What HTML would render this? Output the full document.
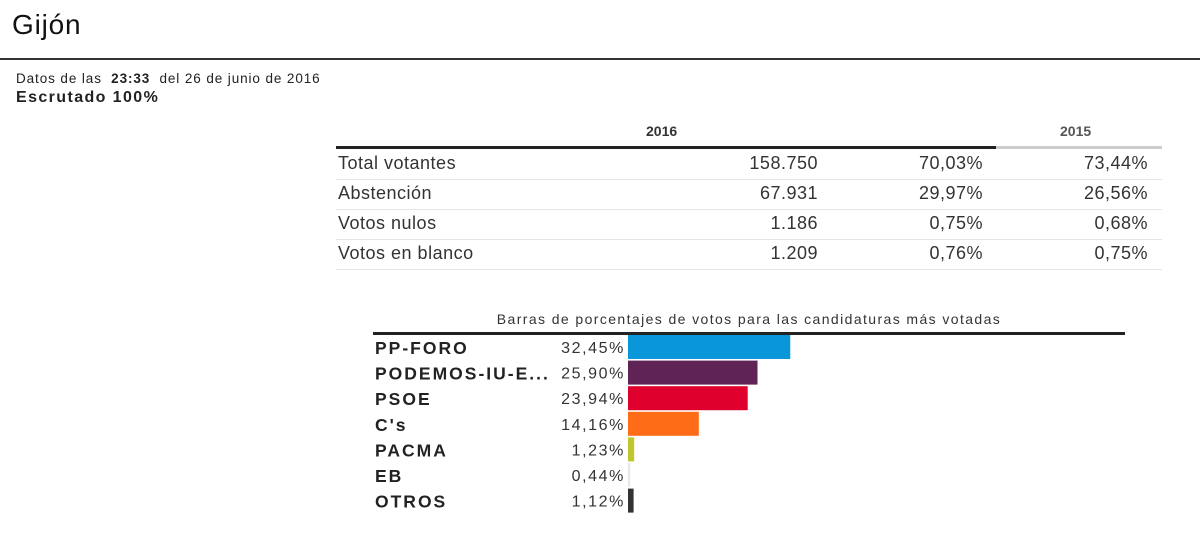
<!DOCTYPE html>
<html><head><meta charset="utf-8"><style>
body{margin:0;width:1200px;height:537px;background:#fff;font-family:"Liberation Sans",sans-serif;color:#222;position:relative;overflow:hidden}
.a{position:absolute;white-space:nowrap}
.row{position:absolute;left:336px;width:826px;height:30px;border-bottom:1px solid #e6e6e6;font-size:18px;color:#333;letter-spacing:0.5px}
.row span{position:absolute;top:4px}
</style></head><body>
<div class="a" style="left:12px;top:9px;font-size:28px;color:#111;letter-spacing:0.8px">Gijón</div>
<div class="a" style="left:0;top:58px;width:1200px;height:2px;background:#333"></div>
<div class="a" style="left:16px;top:71px;font-size:13.5px;letter-spacing:0.9px">Datos de las &nbsp;<b>23:33</b>&nbsp; del 26 de junio de 2016</div>
<div class="a" style="left:16px;top:89px;font-size:16px;font-weight:bold;letter-spacing:1.4px">Escrutado 100%</div>

<div class="a" style="left:646px;top:123px;font-size:14px;font-weight:bold;color:#333">2016</div>
<div class="a" style="left:1060px;top:123px;font-size:14px;font-weight:bold;color:#555">2015</div>
<div class="a" style="left:336px;top:146px;width:660px;height:3px;background:#222"></div>
<div class="a" style="left:996px;top:146px;width:166px;height:3px;background:#ccc"></div>

<div class="row" style="top:149px"><span style="left:2px">Total votantes</span><span style="right:344px">158.750</span><span style="right:179px">70,03%</span><span style="right:14px">73,44%</span></div>
<div class="row" style="top:179px"><span style="left:2px">Abstención</span><span style="right:344px">67.931</span><span style="right:179px">29,97%</span><span style="right:14px">26,56%</span></div>
<div class="row" style="top:209px"><span style="left:2px">Votos nulos</span><span style="right:344px">1.186</span><span style="right:179px">0,75%</span><span style="right:14px">0,68%</span></div>
<div class="row" style="top:239px"><span style="left:2px">Votos en blanco</span><span style="right:344px">1.209</span><span style="right:179px">0,76%</span><span style="right:14px">0,75%</span></div>

<div class="a" style="left:373px;width:752px;text-align:center;top:311px;font-size:14px;letter-spacing:1.4px;color:#333">Barras de porcentajes de votos para las candidaturas más votadas</div>
<div class="a" style="left:373px;top:332px;width:752px;height:3px;background:#222"></div>
<svg id="chart" class="a" style="left:0;top:0" width="1200" height="537"></svg>
<script>
const parties=["PP-FORO","PODEMOS-IU-E...","PSOE","C's","PACMA","EB","OTROS"];
const values=[32.45,25.90,23.94,14.16,1.23,0.44,1.12];
const labels=["32,45%","25,90%","23,94%","14,16%","1,23%","0,44%","1,12%"];
const colors=["#0a97d9","#5f2356","#e0002e","#ff6c18","#bfc82a","#e8e8e8","#333333"];
const ns="http://www.w3.org/2000/svg",svg=document.getElementById('chart');
const x0=628,scale=5.0,y0=335,pitch=25.6,bh=24;
const xs=v=>v*scale, ys=i=>y0+i*pitch;
parties.forEach((p,i)=>{
  const y=ys(i);
  const r=document.createElementNS(ns,'rect');
  
  
  r.setAttribute('x',x0);r.setAttribute('y',y);r.setAttribute('width',Math.max(xs(values[i]),0.5));r.setAttribute('height',bh);r.setAttribute('fill',colors[i]);
  svg.appendChild(r);
  const t=document.createElementNS(ns,'text');
  
  
  t.setAttribute('x',375);t.setAttribute('y',y+19);t.setAttribute('font-size','17.5');t.setAttribute('font-weight','bold');t.setAttribute('fill','#222');t.setAttribute('letter-spacing','2');
  t.textContent=p;svg.appendChild(t);
  const v=document.createElementNS(ns,'text');
  
  
  v.setAttribute('x',625);v.setAttribute('y',y+18);v.setAttribute('text-anchor','end');v.setAttribute('font-size','16');v.setAttribute('fill','#333');v.setAttribute('letter-spacing','1.6');
  v.textContent=labels[i];svg.appendChild(v);
});
</script>
</body></html>
